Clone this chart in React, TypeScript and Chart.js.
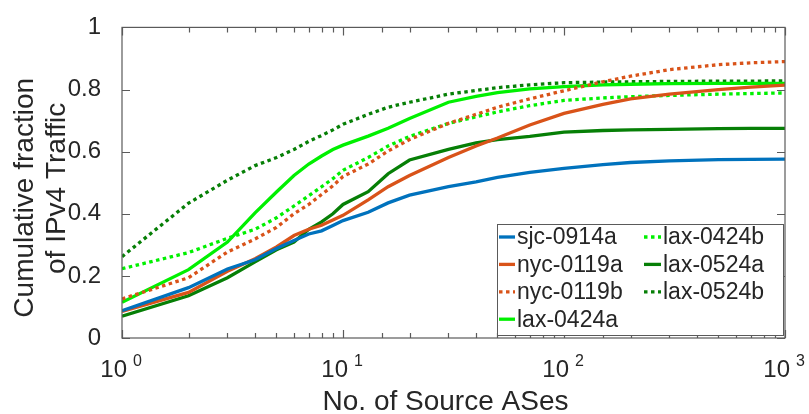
import React, { useEffect, useRef } from 'react';
import { Chart, registerables } from 'chart.js';

Chart.register(...registerables);

// ---- data ----
const xValues = [1, 2, 3, 4, 5, 6, 7, 8, 9, 10, 13, 16, 20, 30, 40, 50, 70, 100, 150, 200, 300, 500, 700, 1000];

const sjc0914a = [0.088, 0.162, 0.222, 0.252, 0.288, 0.314, 0.335, 0.345, 0.362, 0.378, 0.405, 0.435, 0.46, 0.487, 0.503, 0.517, 0.533, 0.546, 0.558, 0.565, 0.57, 0.574, 0.575, 0.576];
const nyc0119a = [0.086, 0.147, 0.215, 0.255, 0.293, 0.33, 0.35, 0.363, 0.38, 0.395, 0.445, 0.487, 0.523, 0.581, 0.618, 0.644, 0.686, 0.723, 0.752, 0.77, 0.785, 0.8, 0.808, 0.814];
const nyc0119b = [0.126, 0.194, 0.277, 0.319, 0.356, 0.4, 0.43, 0.462, 0.49, 0.52, 0.56, 0.602, 0.639, 0.691, 0.72, 0.743, 0.77, 0.796, 0.825, 0.843, 0.864, 0.88, 0.886, 0.89];
const lax0424a = [0.115, 0.22, 0.309, 0.403, 0.47, 0.523, 0.56, 0.586, 0.607, 0.621, 0.65, 0.675, 0.707, 0.759, 0.778, 0.79, 0.802, 0.809, 0.815, 0.817, 0.819, 0.82, 0.82, 0.82];
const lax0424b = [0.223, 0.275, 0.321, 0.35, 0.387, 0.425, 0.458, 0.487, 0.513, 0.54, 0.581, 0.618, 0.649, 0.691, 0.712, 0.728, 0.748, 0.765, 0.773, 0.777, 0.781, 0.785, 0.787, 0.789];
const lax0524a = [0.07, 0.136, 0.194, 0.245, 0.284, 0.309, 0.35, 0.374, 0.4, 0.43, 0.471, 0.529, 0.573, 0.607, 0.628, 0.639, 0.649, 0.663, 0.668, 0.67, 0.672, 0.674, 0.675, 0.675];
const lax0524b = [0.262, 0.434, 0.508, 0.555, 0.581, 0.607, 0.633, 0.652, 0.67, 0.688, 0.72, 0.743, 0.759, 0.785, 0.797, 0.806, 0.815, 0.822, 0.824, 0.825, 0.826, 0.827, 0.827, 0.828];

const seriesLabels = ['sjc-0914a', 'nyc-0119a', 'nyc-0119b', 'lax-0424a', 'lax-0424b', 'lax-0524a', 'lax-0524b'];
const seriesValues = [sjc0914a, nyc0119a, nyc0119b, lax0424a, lax0424b, lax0524a, lax0524b];
const seriesColors = ['#0072BD', '#D95319', '#D95319', '#00F000', '#00F000', '#067F06', '#067F06'];
const seriesDotted = [false, false, true, false, true, false, true];

const yTickValues = [0, 0.2, 0.4, 0.6, 0.8, 1];
const xTitle = 'No. of Source ASes';
const yTitleLines = ['Cumulative fraction', 'of IPv4 Traffic'];

// ---- style ----
const FONT = '"Liberation Sans", Arial, Helvetica, sans-serif';
const TEXT = '#262626';
const AXIS = '#5a5a5a';
const DOT = [3.5, 3.5];

const isDecade = (v: number) => Math.abs(Math.log10(v) - Math.round(Math.log10(v))) < 1e-9;

const decoPlugin = {
  id: 'matlabDeco',
  afterDatasetsDraw(chart: any) {
    const ctx = chart.ctx as CanvasRenderingContext2D;
    const { left, right, top, bottom } = chart.chartArea;
    const xs = chart.scales.x;
    const ys = chart.scales.y;
    ctx.save();

    // frame
    ctx.strokeStyle = AXIS;
    ctx.lineWidth = 1.2;
    ctx.setLineDash([]);
    ctx.strokeRect(left, top, right - left, bottom - top);

    // inward ticks
    ctx.beginPath();
    xs.ticks.forEach((t: any) => {
      const px = Math.round(xs.getPixelForValue(t.value)) + 0.5;
      const len = isDecade(t.value) ? 8 : 5;
      ctx.moveTo(px, bottom);
      ctx.lineTo(px, bottom - len);
      ctx.moveTo(px, top);
      ctx.lineTo(px, top + len);
    });
    ys.ticks.forEach((t: any) => {
      const py = Math.round(ys.getPixelForValue(t.value)) + 0.5;
      ctx.moveTo(left, py);
      ctx.lineTo(left + 8, py);
      ctx.moveTo(right, py);
      ctx.lineTo(right - 8, py);
    });
    ctx.stroke();

    // x tick labels 10^n
    ctx.fillStyle = TEXT;
    xs.ticks.forEach((t: any) => {
      if (!isDecade(t.value)) return;
      const px = xs.getPixelForValue(t.value);
      const exp = String(Math.round(Math.log10(t.value)));
      ctx.font = `24px ${FONT}`;
      ctx.textAlign = 'right';
      ctx.textBaseline = 'alphabetic';
      ctx.fillText('10', px + 5, bottom + 39);
      ctx.font = `16px ${FONT}`;
      ctx.textAlign = 'left';
      ctx.fillText(exp, px + 11, bottom + 28);
    });

    // x title
    ctx.font = `28px ${FONT}`;
    ctx.textAlign = 'center';
    ctx.textBaseline = 'alphabetic';
    ctx.fillText(xTitle, (left + right) / 2 - 8, bottom + 72);

    // y title (two lines, rotated)
    const yCenters = [197.8, 188.4];
    const yBaselines = [33, 65];
    yTitleLines.forEach((line, i) => {
      ctx.save();
      ctx.translate(yBaselines[i], yCenters[i]);
      ctx.rotate(-Math.PI / 2);
      ctx.textAlign = 'center';
      ctx.textBaseline = 'alphabetic';
      ctx.fillText(line, 0, 0);
      ctx.restore();
    });

    // legend box
    const boxL = 497, boxR = right - 2, boxT = 224, boxB = bottom - 3;
    ctx.fillStyle = '#ffffff';
    ctx.fillRect(boxL, boxT, boxR - boxL, boxB - boxT);
    ctx.strokeStyle = AXIS;
    ctx.lineWidth = 1;
    ctx.strokeRect(boxL + 0.5, boxT + 0.5, boxR - boxL, boxB - boxT);

    const cols = [
      { x0: 499, x1: 515, tx: 517 },
      { x0: 644, x1: 661, tx: 663 },
    ];
    chart.data.datasets.forEach((ds: any, i: number) => {
      const col = cols[i < 4 ? 0 : 1];
      const row = i < 4 ? i : i - 4;
      const y = 237 + row * 27.4;
      ctx.strokeStyle = ds.borderColor;
      ctx.lineWidth = 3.3;
      ctx.setLineDash(ds.borderDash || []);
      ctx.beginPath();
      ctx.moveTo(col.x0, y);
      ctx.lineTo(col.x1, y);
      ctx.stroke();
      ctx.setLineDash([]);
      ctx.fillStyle = TEXT;
      ctx.font = `23px ${FONT}`;
      ctx.textAlign = 'left';
      ctx.textBaseline = 'middle';
      ctx.fillText(ds.label, col.tx, y + 1);
    });

    ctx.restore();
  },
};

export default function App() {
  const canvasRef = useRef<HTMLCanvasElement | null>(null);

  useEffect(() => {
    if (!canvasRef.current) return;
    const datasets = seriesLabels.map((label, i) => ({
      label,
      data: xValues.map((x, j) => ({ x, y: seriesValues[i][j] })),
      borderColor: seriesColors[i],
      backgroundColor: seriesColors[i],
      borderWidth: 3.3,
      borderDash: seriesDotted[i] ? DOT : [],
      borderCapStyle: 'butt',
      pointRadius: 0,
      tension: 0,
      fill: false,
    }));

    const chart = new Chart(canvasRef.current, {
      type: 'line',
      data: { datasets } as any,
      options: {
        responsive: false,
        animation: false,
        layout: { padding: { left: 0, top: 20, right: 24, bottom: 0 } },
        plugins: { legend: { display: false }, tooltip: { enabled: false } },
        scales: {
          x: {
            type: 'logarithmic',
            min: 1,
            max: 1000,
            grid: { display: false },
            border: { display: false },
            ticks: { display: false },
            afterFit: (s: any) => { s.height = 76; },
          },
          y: {
            type: 'linear',
            min: 0,
            max: 1,
            afterBuildTicks: (s: any) => { s.ticks = yTickValues.map((v) => ({ value: v })); },
            grid: { display: false },
            border: { display: false },
            ticks: {
              font: { family: FONT, size: 24 },
              color: TEXT,
              padding: 13,
              callback: (v: any) => {
                const n = Number(v);
                if (Math.abs(n) < 1e-9) return '0';
                if (Math.abs(n - 1) < 1e-9) return '1';
                return n.toFixed(1);
              },
            },
            afterFit: (s: any) => { s.width = 122; },
          },
        },
      } as any,
      plugins: [decoPlugin],
    });
    return () => chart.destroy();
  }, []);

  return (
    <div style={{ position: 'absolute', left: 0, top: 0, width: 809, height: 414, background: '#fff' }}>
      <canvas ref={canvasRef} width={809} height={414} style={{ display: 'block', width: 809, height: 414 }} />
    </div>
  );
}
